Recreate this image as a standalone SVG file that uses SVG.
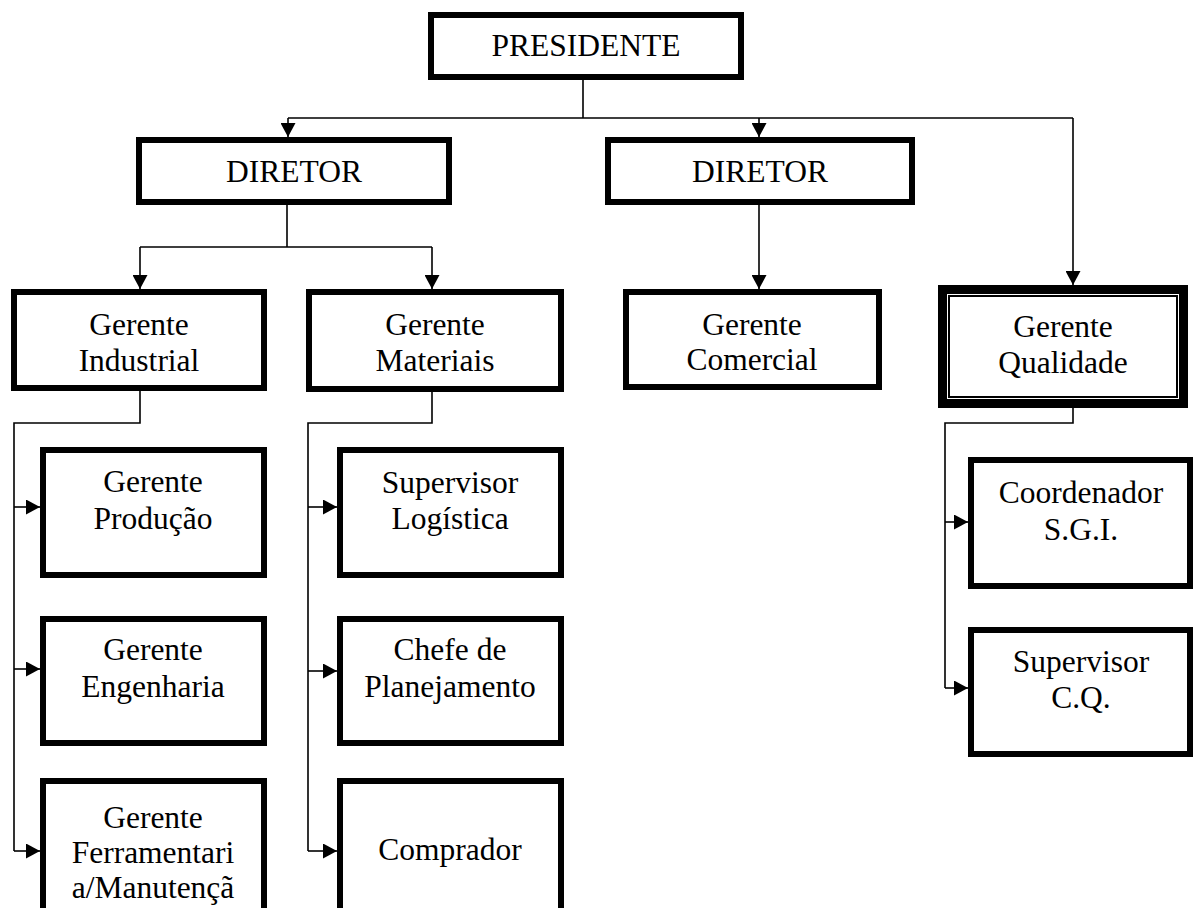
<svg xmlns="http://www.w3.org/2000/svg" width="1195" height="908" viewBox="0 0 1195 908">
  <style>
    .box { fill: #ffffff; stroke: #000000; stroke-width: 6; }
    .thick { fill: #ffffff; stroke: #000000; stroke-width: 9; }
    .thin { fill: none; stroke: #000000; stroke-width: 2; }
    .lbl { font-family: "Liberation Serif", "Times New Roman", serif; font-size: 31.5px; fill: #000000; text-anchor: middle; }
    .wire { fill: none; stroke: #000000; stroke-width: 1.6; }
    .arr { fill: none; stroke: #000000; stroke-width: 1.6; marker-end: url(#head); }
  </style>
  <defs>
    <marker id="head" viewBox="0 0 14 15" refX="14" refY="7.5" markerWidth="14" markerHeight="15" markerUnits="userSpaceOnUse" orient="auto">
      <path d="M0,0 L14,7.5 L0,15 Z" fill="#000000"/>
    </marker>
  </defs>
  <rect width="1195" height="908" fill="#ffffff"/>

  <g id="connectors">
    <path class="wire" d="M583,80 V118 M288,118 H1073"/>
    <path class="arr" d="M288,118 V137"/>
    <path class="arr" d="M759,118 V137"/>
    <path class="arr" d="M1073,118 V285"/>
    <path class="wire" d="M287,205 V247 M140,247 H432"/>
    <path class="arr" d="M140,247 V289"/>
    <path class="arr" d="M432,247 V289"/>
    <path class="arr" d="M759,205 V289"/>
    <path class="wire" d="M140,391 V423 H14 V851"/>
    <path class="arr" d="M14,507 H40"/>
    <path class="arr" d="M14,669 H40"/>
    <path class="arr" d="M14,851 H40"/>
    <path class="wire" d="M432,392 V423 H308 V851"/>
    <path class="arr" d="M308,507 H337"/>
    <path class="arr" d="M308,671 H337"/>
    <path class="arr" d="M308,851 H337"/>
    <path class="wire" d="M1073,408 V423 H945 V688"/>
    <path class="arr" d="M945,522 H968"/>
    <path class="arr" d="M945,688 H968"/>
  </g>

  <g id="presidente">
    <rect class="box" x="431" y="15" width="310" height="62"/>
    <text class="lbl" x="586" y="56">PRESIDENTE</text>
  </g>
  <g id="diretor-1">
    <rect class="box" x="139" y="140" width="310" height="62"/>
    <text class="lbl" x="294" y="182">DIRETOR</text>
  </g>
  <g id="diretor-2">
    <rect class="box" x="608" y="140" width="304" height="62"/>
    <text class="lbl" x="760" y="182">DIRETOR</text>
  </g>
  <g id="gerente-industrial">
    <rect class="box" x="14" y="292" width="250" height="96"/>
    <text class="lbl" x="139" y="335">Gerente</text>
    <text class="lbl" x="139" y="371">Industrial</text>
  </g>
  <g id="gerente-materiais">
    <rect class="box" x="309" y="292" width="252" height="97"/>
    <text class="lbl" x="435" y="335">Gerente</text>
    <text class="lbl" x="435" y="371">Materiais</text>
  </g>
  <g id="gerente-comercial">
    <rect class="box" x="626" y="292" width="253" height="95"/>
    <text class="lbl" x="752" y="335">Gerente</text>
    <text class="lbl" x="752" y="370">Comercial</text>
  </g>
  <g id="gerente-qualidade">
    <rect class="thick" x="942.5" y="289.5" width="241" height="114"/>
    <rect class="thin" x="949" y="296" width="228" height="101"/>
    <text class="lbl" x="1063" y="337">Gerente</text>
    <text class="lbl" x="1063" y="373">Qualidade</text>
  </g>
  <g id="gerente-producao">
    <rect class="box" x="43" y="450" width="221" height="125"/>
    <text class="lbl" x="153" y="492">Gerente</text>
    <text class="lbl" x="153" y="529">Produção</text>
  </g>
  <g id="gerente-engenharia">
    <rect class="box" x="43" y="619" width="221" height="124"/>
    <text class="lbl" x="153" y="660">Gerente</text>
    <text class="lbl" x="153" y="697">Engenharia</text>
  </g>
  <g id="gerente-ferramentaria">
    <rect class="box" x="43" y="781" width="221" height="140"/>
    <text class="lbl" x="153" y="828">Gerente</text>
    <text class="lbl" x="153" y="863">Ferramentari</text>
    <text class="lbl" x="153" y="898">a/Manutençã</text>
  </g>
  <g id="supervisor-logistica">
    <rect class="box" x="340" y="450" width="221" height="125"/>
    <text class="lbl" x="450" y="493">Supervisor</text>
    <text class="lbl" x="450" y="529">Logística</text>
  </g>
  <g id="chefe-planejamento">
    <rect class="box" x="340" y="619" width="221" height="124"/>
    <text class="lbl" x="450" y="660">Chefe de</text>
    <text class="lbl" x="450" y="697">Planejamento</text>
  </g>
  <g id="comprador">
    <rect class="box" x="340" y="781" width="221" height="140"/>
    <text class="lbl" x="450" y="860">Comprador</text>
  </g>
  <g id="coordenador-sgi">
    <rect class="box" x="971" y="460" width="219" height="126"/>
    <text class="lbl" x="1081" y="503">Coordenador</text>
    <text class="lbl" x="1081" y="540">S.G.I.</text>
  </g>
  <g id="supervisor-cq">
    <rect class="box" x="971" y="630" width="219" height="124"/>
    <text class="lbl" x="1081" y="672">Supervisor</text>
    <text class="lbl" x="1081" y="708">C.Q.</text>
  </g>
</svg>
